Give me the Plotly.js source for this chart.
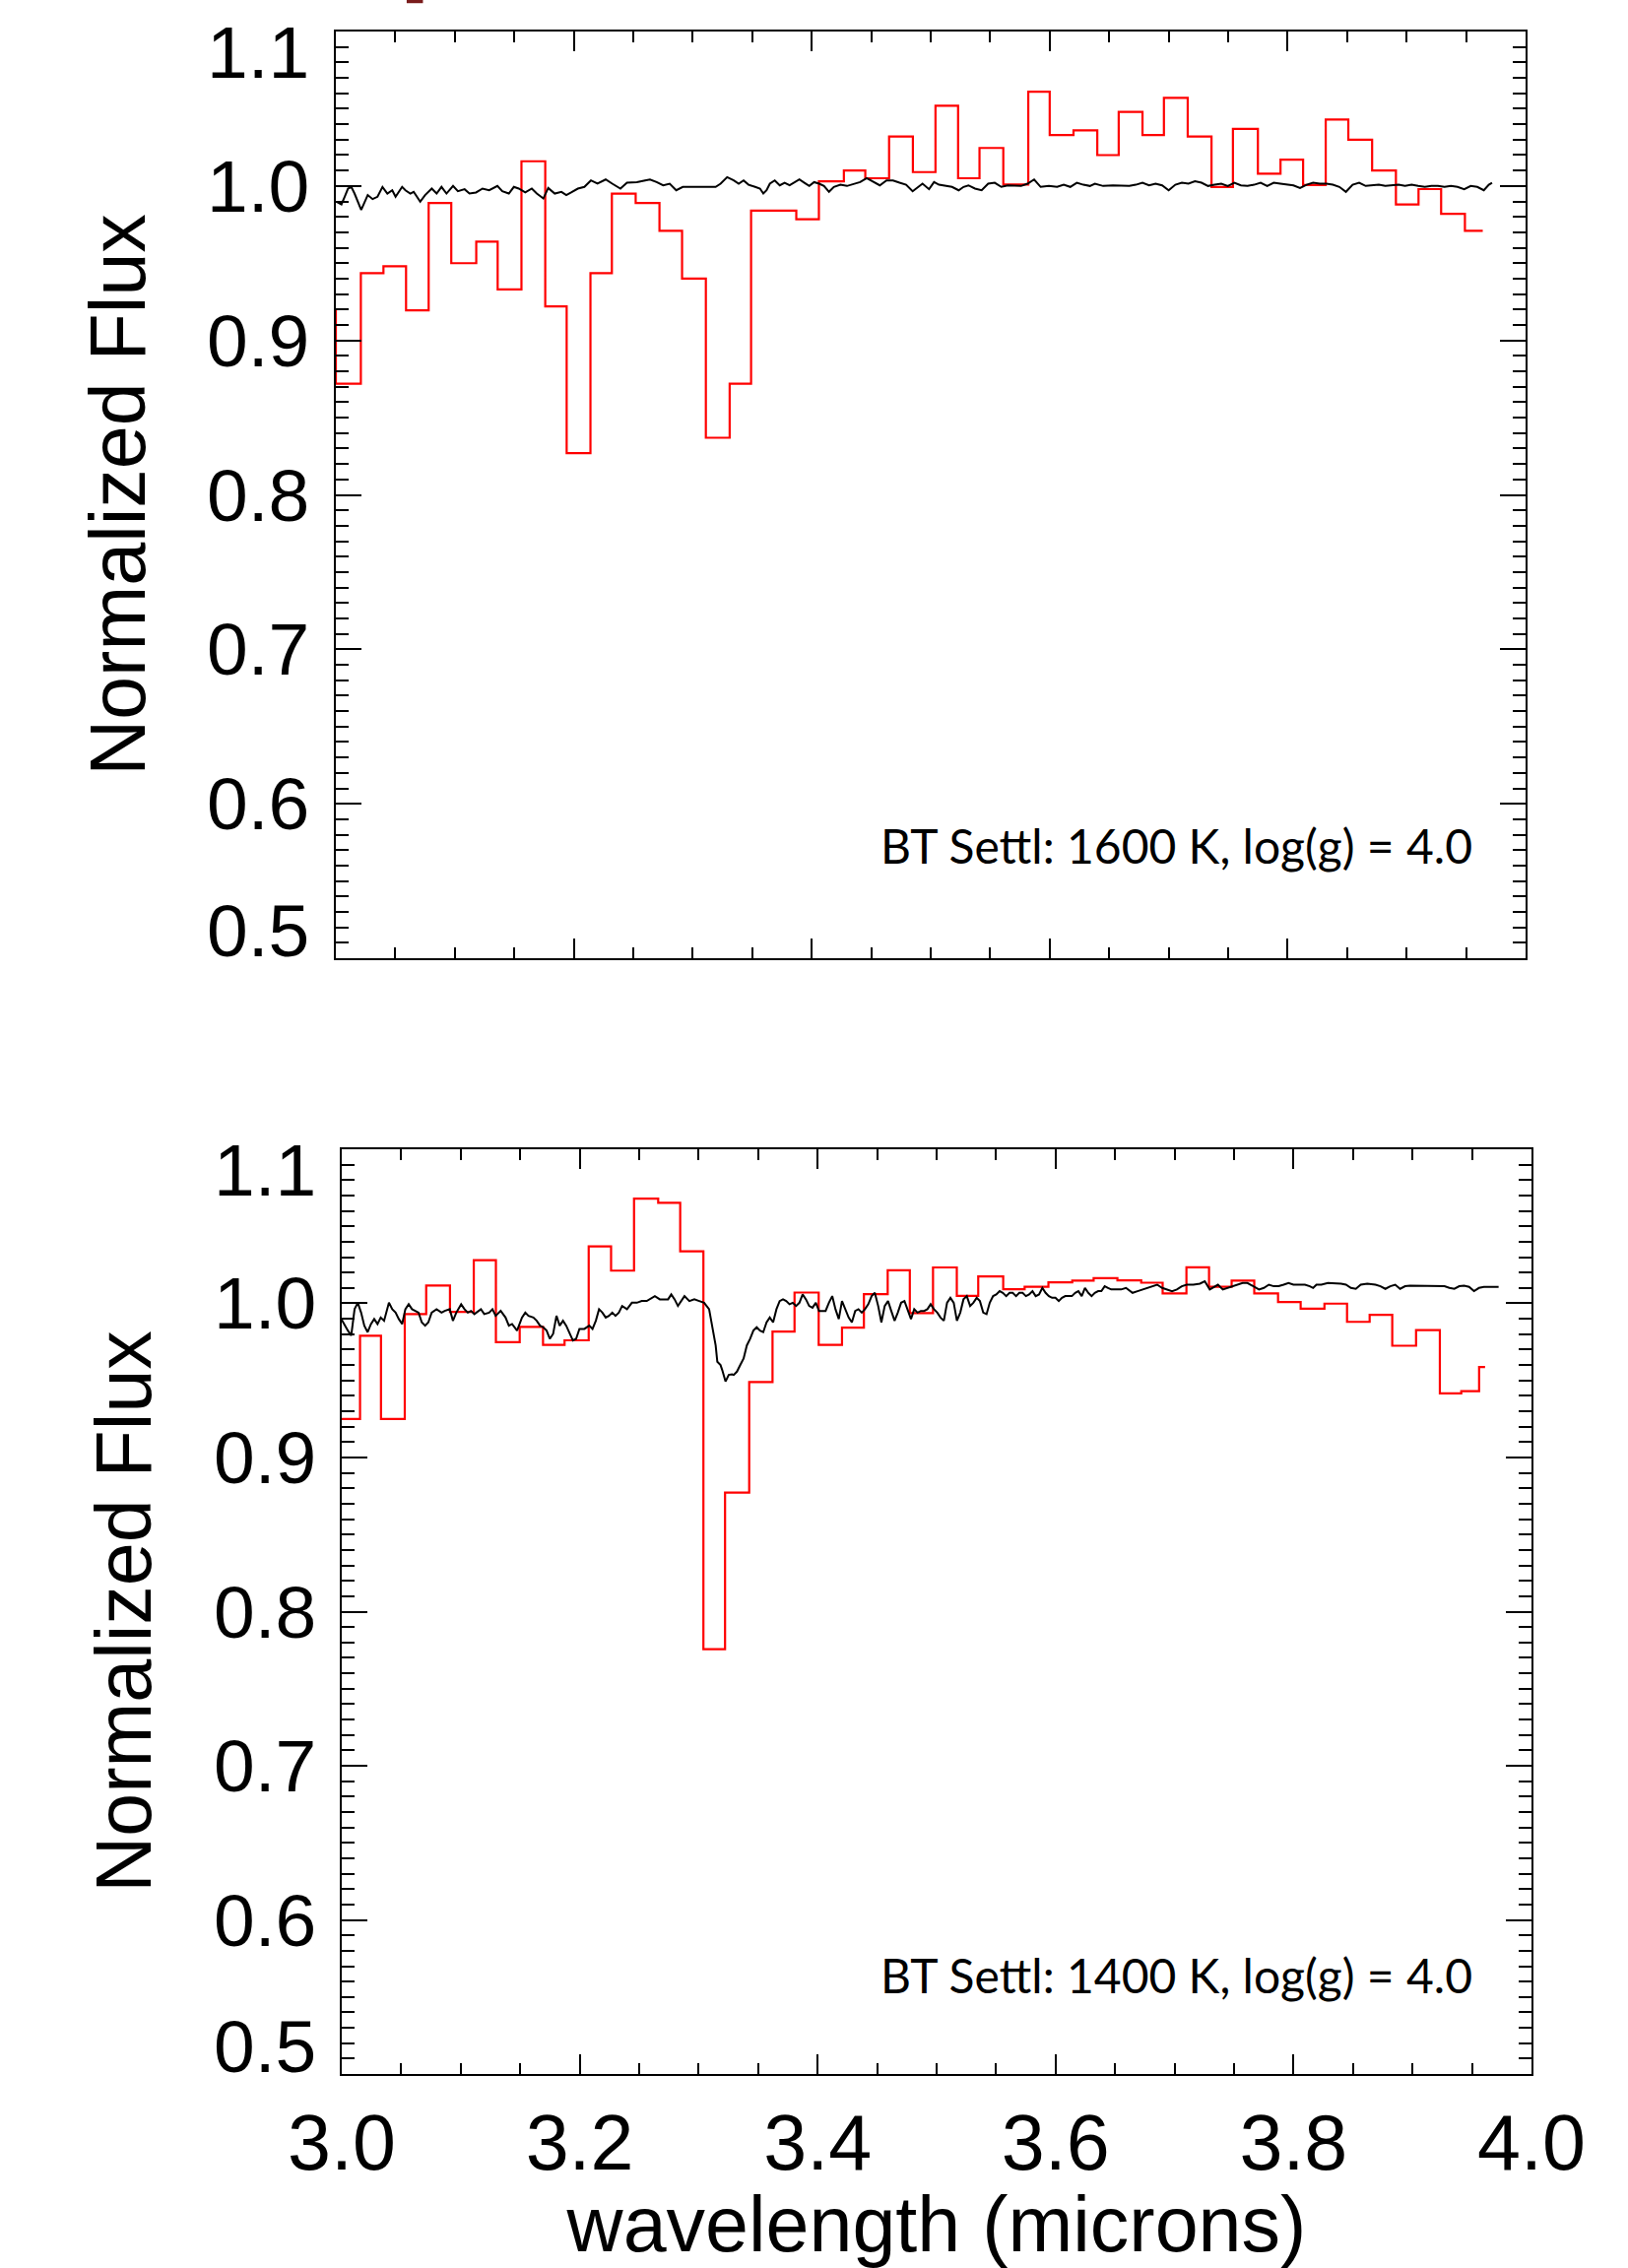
<!DOCTYPE html>
<html>
<head>
<meta charset="utf-8">
<script src="https://cdn.plot.ly/plotly-3.0.1.min.js"></script>
<style>
  html, body { margin: 0; padding: 0; background: #ffffff; }
  #chart { width: 1653px; height: 2303px; }
</style>
</head>
<body>
<div id="chart"></div>
<script>
// ---------------- DATA ----------------
// Top panel: observed binned spectrum (red), left edge of each bin (microns) and flux
const obsTopBinLeft = [2.980, 3.000, 3.021, 3.040, 3.059, 3.078, 3.097, 3.118, 3.136, 3.156, 3.176, 3.194, 3.214, 3.232, 3.252, 3.272, 3.291, 3.311, 3.331, 3.349, 3.368, 3.387, 3.406, 3.427, 3.445, 3.465, 3.485, 3.504, 3.523, 3.541, 3.561, 3.582, 3.600, 3.620, 3.640, 3.658, 3.678, 3.696, 3.716, 3.736, 3.754, 3.775, 3.794, 3.813, 3.832, 3.851, 3.871, 3.891, 3.910, 3.929, 3.949];
const obsTopEnd = 3.964;
const obsTopFlux = [0.919, 0.872, 0.9435, 0.948, 0.9195, 0.989, 0.950, 0.964, 0.933, 1.016, 0.922, 0.827, 0.9435, 0.995, 0.989, 0.971, 0.940, 0.837, 0.872, 0.984, 0.984, 0.9785, 1.003, 1.010, 1.005, 1.032, 1.009, 1.052, 1.005, 1.0246, 1.001, 1.061, 1.033, 1.036, 1.020, 1.048, 1.033, 1.057, 1.032, 0.9994, 1.037, 1.008, 1.017, 1.0006, 1.043, 1.030, 1.010, 0.988, 0.998, 0.982, 0.971];

// Top panel: BT Settl model 1600 K, log(g)=4.0 (black)
const modelTopWave = [3.0006,3.0047,3.0074,3.0102,3.0130,3.0157,3.0213,3.0254,3.0268,3.0309,3.0350,3.0392,3.0433,3.0474,3.0502,3.0557,3.0585,3.0626,3.0654,3.0709,3.0750,3.0806,3.0847,3.0888,3.0930,3.0985,3.1026,3.1082,3.1123,3.1178,3.1233,3.1289,3.1358,3.1399,3.1454,3.1496,3.1537,3.1592,3.1647,3.1689,3.1744,3.1785,3.1840,3.1896,3.1937,3.1978,3.2034,3.2089,3.2144,3.2199,3.2268,3.2323,3.2392,3.2447,3.2530,3.2599,3.2640,3.2696,3.2751,3.2806,3.2861,3.2916,3.2972,3.3054,3.3137,3.3192,3.3234,3.3289,
 3.3344,3.3386,3.3427,3.3469,3.3524,3.3565,3.3593,3.3620,3.3648,3.3689,3.3731,3.3772,3.3814,3.3855,3.3896,3.3938,3.3979,3.4020,3.4062,3.4103,3.4145,3.4186,3.4241,3.4296,3.4352,3.4407,3.4462,3.4517,3.4572,3.4628,3.4683,3.4738,3.4793,3.4848,3.4890,3.4931,3.4986,3.5028,3.5069,3.5124,3.5179,3.5235,3.5276,3.5317,3.5372,3.5428,3.5483,3.5538,3.5593,3.5648,3.5704,3.5759,3.5814,3.5869,3.5924,3.5993,3.6062,3.6118,3.6173,3.6228,3.6283,3.6338,3.6380,3.6449,3.6532,3.6601,
 3.6669,3.6724,3.6780,3.6835,3.6890,3.6945,3.7000,3.7056,3.7111,3.7166,3.7221,3.7276,3.7331,3.7387,3.7442,3.7497,3.7552,3.7607,3.7663,3.7718,3.7773,3.7828,3.7883,3.7939,3.7994,3.8049,3.8104,3.8159,3.8214,3.8270,3.8325,3.8380,3.8435,3.8490,3.8546,3.8601,3.8656,3.8711,3.8766,3.8821,3.8877,3.8932,3.8987,3.9042,3.9097,3.9153,3.9208,3.9263,3.9318,3.9373,3.9428,3.9484,3.9539,3.9594,3.9649,3.9691,3.9718];
const modelTopFlux = [0.9898,0.9881,0.9930,0.9983,0.9994,0.9951,0.9845,0.9909,0.9941,0.9915,0.9930,0.9994,0.9951,0.9972,0.9930,0.9994,0.9972,0.9951,0.9962,0.9898,0.9941,0.9983,0.9951,0.9994,0.9951,1.0000,0.9966,0.9979,0.9951,0.9958,0.9983,0.9972,1.0000,0.9966,0.9951,0.9994,0.9983,0.9958,0.9983,0.9951,0.9919,0.9987,0.9951,0.9962,0.9941,0.9958,0.9983,0.9994,1.0036,1.0015,1.0042,1.0015,0.9983,1.0021,1.0025,1.0036,1.0042,1.0025,1.0004,1.0015,0.9972,0.9994,0.9994,0.9994,0.9994,0.9994,1.0015,1.0057,
 1.0036,1.0015,1.0036,1.0008,0.9994,0.9983,0.9951,0.9972,1.0015,1.0036,1.0004,1.0021,1.0004,1.0025,1.0042,1.0021,1.0000,1.0025,1.0015,1.0000,0.9962,0.9994,1.0008,1.0000,1.0015,1.0025,1.0051,1.0030,1.0004,1.0036,1.0036,1.0021,1.0008,0.9966,0.9994,1.0015,0.9979,1.0025,1.0008,1.0000,0.9994,0.9972,0.9994,1.0004,0.9983,0.9972,1.0015,1.0021,0.9994,1.0004,1.0000,1.0000,1.0015,1.0042,0.9994,1.0000,0.9994,1.0008,0.9994,1.0021,1.0008,1.0000,1.0015,1.0000,1.0004,1.0000,
 1.0000,1.0008,1.0021,1.0004,1.0015,1.0004,0.9972,1.0008,1.0021,1.0015,1.0030,1.0021,1.0000,1.0008,1.0015,1.0000,1.0021,1.0004,1.0000,1.0008,1.0021,1.0000,1.0021,1.0015,1.0008,1.0004,0.9987,1.0008,1.0021,1.0015,1.0015,1.0008,0.9994,0.9962,1.0008,1.0021,1.0000,1.0004,1.0008,1.0000,1.0004,1.0008,1.0000,1.0008,1.0000,0.9994,1.0000,1.0000,0.9994,1.0000,0.9994,0.9979,1.0000,0.9994,0.9972,1.0008,1.0021];

// Bottom panel: observed binned spectrum (red)
const obsBotBinLeft = [2.995, 3.0154, 3.033, 3.053, 3.071, 3.091, 3.111, 3.1296, 3.1496, 3.1692, 3.1873, 3.2076, 3.2264, 3.2457, 3.266, 3.2845, 3.304, 3.3222, 3.3425, 3.3621, 3.3806, 3.4009, 3.4205, 3.4389, 3.4589, 3.4775, 3.497, 3.517, 3.535, 3.556, 3.574, 3.594, 3.614, 3.632, 3.652, 3.672, 3.690, 3.710, 3.729, 3.748, 3.767, 3.787, 3.806, 3.826, 3.845, 3.864, 3.883, 3.903, 3.923, 3.941, 3.956];
const obsBotEnd = 3.961;
const obsBotFlux = [0.925, 0.979, 0.925, 0.993, 1.0116, 0.9944, 1.028, 0.9748, 0.9847, 0.9731, 0.976, 1.0369, 1.0212, 1.0679, 1.0652, 1.0337, 0.7757, 0.8772, 0.949, 0.9817, 1.007, 0.9731, 0.9843, 1.006, 1.0215, 0.9937, 1.0233, 1.0048, 1.0175, 1.0092, 1.0107, 1.0136, 1.0147, 1.0164, 1.0149, 1.0134, 1.0064, 1.0234, 1.0107, 1.0147, 1.0064, 1.0008, 0.9966, 0.9998, 0.988, 0.9925, 0.9725, 0.9827, 0.9416, 0.943, 0.9587];

// Bottom panel: BT Settl model 1400 K, log(g)=4.0 (black)
const modelBotWave = [2.9997,3.0025,3.0052,3.0080,3.0108,3.0135,3.0163,3.0190,3.0218,3.0246,3.0273,3.0301,3.0328,3.0356,3.0397,3.0425,3.0453,3.0480,3.0508,3.0535,3.0563,3.0591,3.0646,3.0673,3.0701,3.0728,3.0756,3.0797,3.0839,3.0866,3.0908,3.0935,3.0963,3.1004,3.1032,3.1060,3.1087,3.1115,3.1170,3.1198,3.1239,3.1267,3.1294,3.1336,3.1377,3.1405,3.1432,3.1474,3.1515,3.1543,3.1570,3.1611,3.1639,3.1667,3.1694,3.1722,3.1749,3.1777,3.1805,3.1832,3.1860,3.1887,3.1915,3.1943,3.1970,3.1998,3.2039,3.2081,3.2108,3.2136,3.2163,3.2191,3.2219,3.2246,3.2274,3.2301,3.2329,3.2357,3.2398,3.2439,3.2481,3.2522,3.2564,3.2591,3.2632,3.2674,3.2743,3.2770,3.2798,3.2826,3.2853,3.2881,3.2922,3.2964,3.3005,3.3046,3.3088,3.3115,3.3143,3.3157,3.3184,3.3198,3.3226,3.3253,3.3281,
 3.3295,3.3322,3.3350,3.3378,3.3405,3.3433,3.3460,3.3488,3.3516,3.3543,3.3571,3.3598,3.3626,3.3654,3.3681,3.3709,3.3736,3.3764,3.3791,3.3819,3.3847,3.3874,3.3902,3.3929,3.3957,3.3985,3.4012,3.4040,3.4067,3.4095,3.4123,3.4150,3.4178,3.4205,3.4233,3.4261,3.4288,3.4316,3.4343,3.4371,3.4398,3.4426,3.4454,3.4481,3.4509,3.4536,3.4564,3.4592,3.4619,3.4647,3.4674,3.4702,3.4730,3.4757,3.4785,3.4812,3.4840,3.4868,3.4895,3.4923,3.4950,3.4978,3.5006,3.5033,3.5061,3.5088,3.5116,3.5144,3.5171,3.5199,3.5226,3.5254,3.5282,3.5309,3.5337,3.5364,3.5392,3.5420,3.5447,3.5475,3.5502,3.5530,3.5557,3.5585,3.5613,3.5640,3.5668,3.5695,3.5723,3.5751,3.5778,3.5806,3.5833,3.5861,3.5889,3.5916,3.5944,3.5971,3.5999,3.6027,3.6054,3.6082,3.6137,3.6165,3.6192,3.6220,3.6247,3.6275,3.6303,3.6330,3.6358,3.6385,3.6413,3.6441,3.6468,3.6510,3.6551,3.6592,
 3.6647,3.6689,3.6730,3.6772,3.6813,3.6854,3.6896,3.6937,3.6979,3.7020,3.7061,3.7103,3.7158,3.7213,3.7254,3.7296,3.7337,3.7365,3.7406,3.7448,3.7489,3.7530,3.7572,3.7613,3.7668,3.7710,3.7751,3.7793,3.7834,3.7875,3.7917,3.7958,3.7999,3.8041,3.8096,3.8137,3.8165,3.8193,3.8234,3.8289,3.8344,3.8400,3.8441,3.8482,3.8524,3.8565,3.8620,3.8689,3.8731,3.8772,3.8813,3.8855,3.8896,3.8938,3.8979,3.9034,3.9089,3.9145,3.9186,3.9227,3.9269,3.9310,3.9352,3.9393,3.9434,3.9476,3.9517,3.9559,3.9600,3.9641,3.9683,3.9724];
const modelBotFlux = [0.9898,0.9855,0.9823,0.9791,0.9962,1.0004,0.9940,0.9855,0.9813,0.9866,0.9898,0.9866,0.9908,0.9887,1.0004,0.9962,0.9940,0.9898,0.9866,0.9962,0.9994,0.9962,0.9940,0.9877,0.9855,0.9877,0.9940,0.9962,0.9940,0.9951,0.9962,0.9887,0.9940,0.9994,0.9962,0.9940,0.9951,0.9930,0.9962,0.9930,0.9940,0.9962,0.9919,0.9951,0.9908,0.9855,0.9866,0.9823,0.9908,0.9940,0.9919,0.9908,0.9887,0.9855,0.9845,0.9823,0.9770,0.9802,0.9919,0.9855,0.9887,0.9855,0.9802,0.9759,0.9770,0.9834,0.9834,0.9855,0.9834,0.9887,0.9962,0.9940,0.9908,0.9919,0.9940,0.9919,0.9940,0.9983,0.9962,1.0004,1.0004,1.0015,1.0015,1.0026,1.0047,1.0026,1.0026,1.0058,1.0026,0.9983,1.0015,1.0047,1.0015,1.0026,1.0015,1.0004,0.9962,0.9855,0.9727,0.9621,0.9600,0.9568,0.9493,0.9536,0.9540,
 0.9536,0.9557,0.9600,0.9642,0.9727,0.9770,0.9823,0.9845,0.9823,0.9813,0.9877,0.9908,0.9877,0.9962,1.0015,1.0026,1.0015,0.9994,1.0004,0.9983,1.0004,1.0058,1.0026,0.9983,0.9972,1.0004,0.9951,0.9951,0.9951,1.0004,1.0047,0.9962,0.9898,1.0015,0.9962,0.9908,0.9877,0.9951,0.9962,0.9940,0.9962,0.9994,1.0047,1.0068,0.9983,0.9877,0.9983,1.0015,0.9951,0.9887,0.9940,1.0004,1.0015,0.9962,0.9898,0.9962,0.9940,0.9951,0.9951,0.9962,0.9994,0.9962,0.9940,0.9908,0.9887,1.0004,1.0036,1.0004,0.9887,0.9940,1.0026,1.0047,0.9983,1.0004,1.0036,1.0015,0.9940,0.9930,1.0004,1.0047,1.0058,1.0079,1.0068,1.0047,1.0068,1.0068,1.0047,1.0068,1.0068,1.0047,1.0058,1.0079,1.0047,1.0058,1.0100,1.0068,1.0047,1.0036,1.0036,1.0015,1.0036,1.0047,1.0047,1.0068,1.0079,1.0047,1.0100,1.0068,1.0047,1.0068,1.0079,1.0079,1.0111,1.0100,1.0090,1.0090,1.0090,1.0100,
 1.0068,1.0079,1.0090,1.0100,1.0111,1.0121,1.0100,1.0090,1.0079,1.0090,1.0111,1.0121,1.0121,1.0128,1.0143,1.0090,1.0111,1.0121,1.0090,1.0100,1.0111,1.0121,1.0132,1.0132,1.0111,1.0090,1.0100,1.0121,1.0111,1.0111,1.0121,1.0132,1.0121,1.0121,1.0121,1.0111,1.0100,1.0121,1.0121,1.0132,1.0132,1.0128,1.0121,1.0100,1.0094,1.0121,1.0128,1.0121,1.0111,1.0094,1.0111,1.0121,1.0094,1.0111,1.0115,1.0115,1.0115,1.0111,1.0115,1.0115,1.0111,1.0100,1.0094,1.0111,1.0115,1.0107,1.0079,1.0100,1.0107,1.0107,1.0107,1.0107];

// Axis ticks and labels
const yTickVals = [0.5, 0.6, 0.7, 0.8, 0.9, 1.0, 1.1];
const yTickText = ["0.5", "0.6", "0.7", "0.8", "0.9", "1.0", "1.1"];
const xTickVals = [3.0, 3.2, 3.4, 3.6, 3.8, 4.0];
const xTickText = ["3.0", "3.2", "3.4", "3.6", "3.8", "4.0"];
const yTitle = "Normalized Flux";
const xTitle = "wavelength (microns)";
const labelTop = "BT Settl: 1600 K, log(g) = 4.0";
const labelBot = "BT Settl: 1400 K, log(g) = 4.0";

// ---------------- BUILD ----------------
function stepX(left, end) { return left.concat([end]); }
function stepY(vals) { return vals.concat([vals[vals.length - 1]]); }

const traces = [
  { x: stepX(obsTopBinLeft, obsTopEnd), y: stepY(obsTopFlux), xaxis: 'x', yaxis: 'y',
    type: 'scatter', mode: 'lines', line: { color: '#ff0000', width: 2.2, shape: 'hv' }, hoverinfo: 'skip' },
  { x: modelTopWave, y: modelTopFlux, xaxis: 'x', yaxis: 'y',
    type: 'scatter', mode: 'lines', line: { color: '#000000', width: 2 }, hoverinfo: 'skip' },
  { x: stepX(obsBotBinLeft, obsBotEnd), y: stepY(obsBotFlux), xaxis: 'x2', yaxis: 'y2',
    type: 'scatter', mode: 'lines', line: { color: '#ff0000', width: 2.2, shape: 'hv' }, hoverinfo: 'skip' },
  { x: modelBotWave, y: modelBotFlux, xaxis: 'x2', yaxis: 'y2',
    type: 'scatter', mode: 'lines', line: { color: '#000000', width: 2 }, hoverinfo: 'skip' }
];

const FONT = '"Liberation Sans", Arial, Helvetica, sans-serif';

function xAxis(domain, anchor, showLabels) {
  const ax = {
    domain: domain, anchor: anchor, range: [3.0, 4.0],
    showgrid: false, zeroline: false, showline: true, linecolor: '#000', linewidth: 2,
    mirror: 'allticks', ticks: 'inside', ticklen: 20, tickwidth: 2, tickcolor: '#000',
    tickvals: xTickVals, ticktext: xTickText,
    minor: { dtick: 0.05, tick0: 3.0, ticks: 'inside', ticklen: 11, tickwidth: 2, tickcolor: '#000', showgrid: false },
    showticklabels: showLabels,
    tickfont: { family: FONT, size: 79, color: '#000' }
  };
  if (showLabels) {
    ax.ticklabelstandoff = 0;
    ax.title = { text: xTitle, font: { family: FONT, size: 79, color: '#000' }, standoff: 40 };
  }
  return ax;
}
function yAxis(domain, anchor) {
  return {
    domain: domain, anchor: anchor, range: [0.5, 1.1],
    showgrid: false, zeroline: false, showline: true, linecolor: '#000', linewidth: 2,
    mirror: 'allticks', ticks: 'inside', ticklen: 26, tickwidth: 2, tickcolor: '#000',
    tickvals: yTickVals,
    minor: { dtick: 0.01, tick0: 0.5, ticks: 'inside', ticklen: 13, tickwidth: 2, tickcolor: '#000', showgrid: false },
    showticklabels: false,
    title: { text: yTitle, font: { family: FONT, size: 79, color: '#000' }, standoff: 165 }
  };
}

// y tick labels drawn as annotations so the end labels can sit inside the frame like the original
function yTickLabels(yref, xPaper) {
  return yTickVals.map((v, i) => ({
    text: yTickText[i], xref: 'paper', yref: yref, x: xPaper, y: v,
    xanchor: 'right', yanchor: 'middle', showarrow: false,
    yshift: (i === yTickVals.length - 1) ? -21 : (i === 0 ? 28 : 0),
    font: { family: FONT, size: 75, color: '#000' }
  }));
}

const layout = {
  width: 1653, height: 2303,
  margin: { l: 0, r: 0, t: 0, b: 0 },
  paper_bgcolor: '#ffffff', plot_bgcolor: '#ffffff',
  showlegend: false,
  xaxis: xAxis([0.2063, 0.9371], 'y', false),
  yaxis: yAxis([0.5775, 0.9861], 'x'),
  xaxis2: xAxis([0.2099, 0.9407], 'y2', true),
  yaxis2: yAxis([0.0855, 0.4933], 'x2'),
  annotations: [
    { text: labelTop, xref: 'x', yref: 'y', x: 3.957, y: 0.5733, xanchor: 'right', yanchor: 'middle',
      showarrow: false, font: { family: 'Lato, "Open Sans", sans-serif', size: 48, color: '#000' } },
    { text: labelBot, xref: 'x2', yref: 'y2', x: 3.952, y: 0.5642, xanchor: 'right', yanchor: 'middle',
      showarrow: false, font: { family: 'Lato, "Open Sans", sans-serif', size: 48, color: '#000' } }
  ].concat(yTickLabels('y', 0.1912), yTickLabels('y2', 0.1954)),
  shapes: [
    { type: 'rect', xref: 'paper', yref: 'paper', x0: 0.2498, x1: 0.2598, y0: 0.9986, y1: 1.0,
      fillcolor: '#7a1c1c', line: { width: 0 } }
  ]
};

Plotly.newPlot('chart', traces, layout, { staticPlot: true, displayModeBar: false });
</script>
</body>
</html>
